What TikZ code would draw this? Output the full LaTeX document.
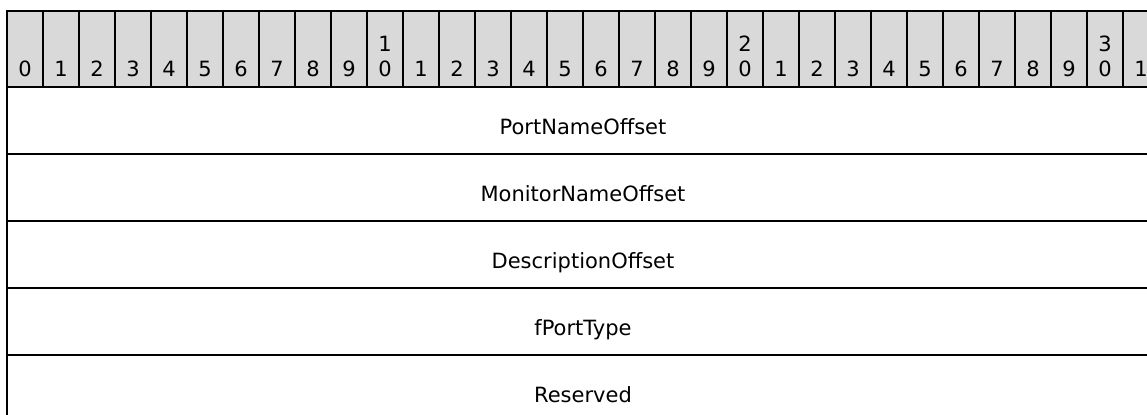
\documentclass[tikz,border=0pt]{standalone}
\usepackage{fontspec}
\setmainfont{DejaVu Sans}
\definecolor{hdrgray}{RGB}{217,217,217}
\tikzset{
  bitlabel/.style={anchor=base,inner sep=0pt,font=\fontsize{10.5}{12.5}\selectfont},
  fieldlabel/.style={anchor=base,inner sep=0pt,font=\fontsize{10.5}{12.5}\selectfont}
}
\begin{document}
\begin{tikzpicture}[x=0.5pt,y=-0.5pt,line width=1pt]
            \useasboundingbox (0,0) rectangle (1147,415);
            \clip (0,0) rectangle (1147,415);
            % header with bit numbers
            \fill[hdrgray] (7,11) rectangle (1159,87);
            \foreach \k in {0,...,32}
                \draw (7+36*\k,11) -- (7+36*\k,87);
            \foreach \k in {0,...,31} {
                \pgfmathtruncatemacro\u{mod(\k,10)}
                \node[bitlabel] (b\k) at (25+36*\k,77) {\u};
            }
            \foreach \k/\t in {10/1,20/2,30/3}
                \node[bitlabel] (t\k) at (25+36*\k,52) {\t};
            % fields
            \draw (7,11) rectangle (1159,422);
            \draw (7,87) -- (1159,87);
            \draw (7,154) -- (1159,154);
            \draw (7,221) -- (1159,221);
            \draw (7,288) -- (1159,288);
            \draw (7,355) -- (1159,355);
            \node[fieldlabel] (portname) at (583,135) {PortNameOffset};
            \node[fieldlabel] (monitorname) at (583,202) {MonitorNameOffset};
            \node[fieldlabel] (description) at (583,269) {DescriptionOffset};
            \node[fieldlabel] (porttype) at (583,336) {fPortType};
            \node[fieldlabel] (reserved) at (583,403) {Reserved};
\end{tikzpicture}
\end{document}
